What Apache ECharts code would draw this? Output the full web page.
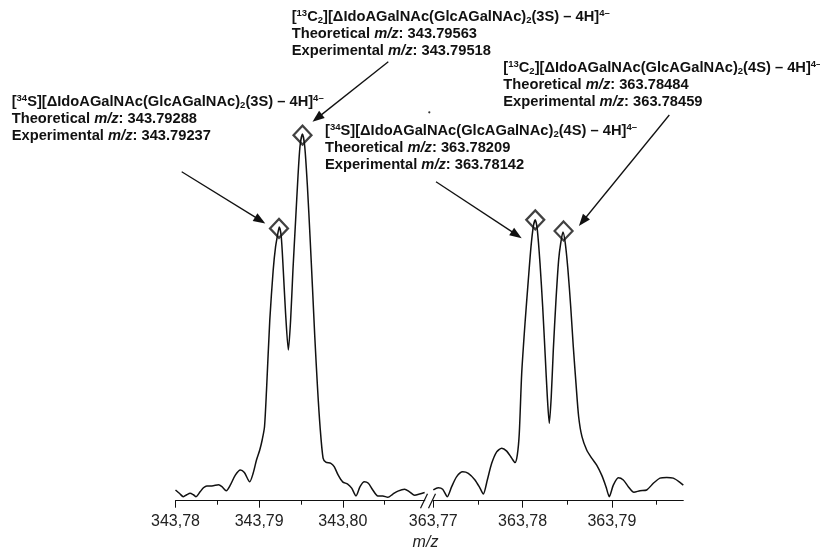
<!DOCTYPE html>
<html><head><meta charset="utf-8">
<script src="https://cdn.jsdelivr.net/npm/echarts@6/dist/echarts.min.js"></script>
<style>html,body{margin:0;padding:0;background:#fff}#c{width:820px;height:556px}</style>
</head><body><div id="c"></div>
<script>
// ---- data ----
const leftMz = [343.78000,343.78046,343.78094,343.78135,343.78174,343.78214,343.78246,343.78294,343.78334,343.78375,343.78435,343.78514,343.78555,343.78607,343.78655,343.78715,343.78775,343.78823,343.78887,343.78928,343.78968,343.79007,343.79036,343.79064,343.79088,343.79127,343.79168,343.79196,343.79224,343.79240,343.79264,343.79288,343.79316,343.79349,343.79376,343.79404,343.79436,343.79464,343.79488,343.79517,343.79545,343.79577,343.79608,343.79637,343.79665,343.79697,343.79728,343.79764,343.79797,343.79857,343.79897,343.79945,343.79998,343.80058,343.80106,343.80157,343.80206,343.80257,343.80305,343.80358,343.80418,343.80478,343.80538,343.80599,343.80659,343.80738,343.80798,343.80858,343.80918,343.80978];
const leftIntensity = [2.9,2.0,1.1,1.6,2.0,1.6,1.1,2.4,3.5,4.0,4.0,4.3,3.8,2.7,4.2,6.9,8.3,7.6,5.1,7.4,11.0,13.7,16.4,20.0,29.9,48.8,62.4,68.6,72.3,74.0,71.4,62.4,50.6,40.7,48.8,62.4,75.9,87.6,95.7,99.1,95.7,84.9,71.4,57.8,44.3,30.8,20.0,11.5,10.4,10.1,9.2,6.9,5.1,4.5,3.4,1.3,3.8,5.1,4.7,2.9,1.3,1.3,0.9,1.8,2.6,3.1,2.4,1.5,1.8,2.2];
const rightMz = [363.77000,363.77056,363.77105,363.77157,363.77206,363.77262,363.77329,363.77392,363.77467,363.77523,363.77560,363.77605,363.77654,363.77710,363.77766,363.77822,363.77878,363.77915,363.77941,363.77963,363.77990,363.78027,363.78064,363.78094,363.78120,363.78142,363.78165,363.78195,363.78225,363.78254,363.78277,363.78299,363.78321,363.78344,363.78374,363.78404,363.78427,363.78452,363.78478,363.78508,363.78539,363.78568,363.78598,363.78628,363.78665,363.78718,363.78774,363.78830,363.78886,363.78934,363.78971,363.79016,363.79072,363.79128,363.79184,363.79247,363.79315,363.79390,363.79464,363.79539,363.79614,363.79688,363.79755,363.79800];
const rightIntensity = [2.9,3.5,3.1,1.1,3.8,6.5,7.8,7.4,5.6,3.4,1.8,5.6,10.1,13.2,14.2,13.4,11.5,10.3,12.4,18.2,34.4,47.9,59.6,68.6,74.1,75.9,73.2,64.2,52.4,38.9,28.1,20.9,28.1,40.7,54.2,65.1,69.6,72.6,69.6,62.4,52.4,41.6,31.7,22.7,17.3,13.7,11.5,9.6,6.9,3.8,1.1,4.2,6.2,5.6,3.8,2.3,2.7,2.9,4.7,6.1,6.3,6.1,5.1,4.2];
const leftPeakMz = [343.79237, 343.79518];
const leftPeakIntensity = [73.6, 98.8];
const rightPeakMz = [363.78142, 363.78459];
const rightPeakIntensity = [75.9, 72.9];
const leftTicks = [343.78, 343.79, 343.80];
const leftMinorTicks = [343.785, 343.795, 343.805];
const rightTicks = [363.77, 363.78, 363.79];
const rightMinorTicks = [363.775, 363.785, 363.795];
const leftRange = [343.78, 343.8098];
const rightRange = [363.77, 363.798];
const labelTexts = [
  ['[{sup|13}C{sub|2}][ΔIdoAGalNAc(GlcAGalNAc){sub|2}(3S) – 4H]{sup|4–}', 'Theoretical {it|m/z}: 343.79563', 'Experimental {it|m/z}: 343.79518'],
  ['[{sup|34}S][ΔIdoAGalNAc(GlcAGalNAc){sub|2}(3S) – 4H]{sup|4–}', 'Theoretical {it|m/z}: 343.79288', 'Experimental {it|m/z}: 343.79237'],
  ['[{sup|34}S][ΔIdoAGalNAc(GlcAGalNAc){sub|2}(4S) – 4H]{sup|4–}', 'Theoretical {it|m/z}: 363.78209', 'Experimental {it|m/z}: 363.78142'],
  ['[{sup|13}C{sub|2}][ΔIdoAGalNAc(GlcAGalNAc){sub|2}(4S) – 4H]{sup|4–}', 'Theoretical {it|m/z}: 363.78484', 'Experimental {it|m/z}: 363.78459']
];
const axisTitle = 'm/z';

// ---- layout ----
const FONT = 'Liberation Sans, Arial, Helvetica, sans-serif';
const labelPos = [ {x: 291.7, y: 17}, {x: 11.7, y: 102}, {x: 325, y: 131}, {x: 503.3, y: 68} ];
const LINE_H = 17;
const arrows = [
  {peak: ['L', 0], tail: [181.7, 171.7], off: [-13.7, -5]},
  {peak: ['L', 1], tail: [388.3, 61.7], off: [10, -13.3]},
  {peak: ['R', 0], tail: [436, 181.7], off: [-13.6, 18.3]},
  {peak: ['R', 1], tail: [669.3, 115], off: [15.3, -5]}
];

const chart = echarts.init(document.getElementById('c'), null, {renderer: 'canvas'});
const fmt = v => v.toFixed(2).replace('.', ',');
const TOP = 130.7, H = 370;

function mainAxis(grid, range, ticks) {
  return {type: 'value', gridIndex: grid, position: 'bottom', min: range[0], max: range[1],
    axisLine: {show: true, lineStyle: {color: '#111', width: 1}},
    axisTick: {show: true, customValues: ticks, length: 7, lineStyle: {color: '#111', width: 1}},
    axisLabel: {show: true, customValues: ticks, formatter: fmt, fontSize: 16, fontFamily: FONT, color: '#222', margin: 13},
    splitLine: {show: false}};
}
function minorAxis(grid, range, ticks) {
  return {type: 'value', gridIndex: grid, position: 'bottom', min: range[0], max: range[1],
    axisLine: {show: false},
    axisTick: {show: true, customValues: ticks, length: 4, lineStyle: {color: '#111', width: 1}},
    axisLabel: {show: false}, splitLine: {show: false}};
}
const pairs = (xs, ys) => xs.map((x, i) => [x, ys[i]]);
const lineStyle = {color: '#111', width: 1.5};
const diamond = {symbol: 'diamond', symbolSize: [18, 19],
  itemStyle: {color: 'rgba(255,255,255,0)', borderColor: '#111', borderWidth: 2.2}, z: 5};

chart.setOption({
  animation: false,
  backgroundColor: '#fff',
  grid: [
    {left: 175.5, width: 249.3, top: TOP, height: H},
    {left: 433.3, width: 250, top: TOP, height: H}
  ],
  xAxis: [mainAxis(0, leftRange, leftTicks), minorAxis(0, leftRange, leftMinorTicks),
          mainAxis(1, rightRange, rightTicks), minorAxis(1, rightRange, rightMinorTicks)],
  yAxis: [{type: 'value', gridIndex: 0, min: 0, max: 100, show: false},
          {type: 'value', gridIndex: 1, min: 0, max: 100, show: false}],
  series: [
    {type: 'line', xAxisIndex: 0, yAxisIndex: 0, data: pairs(leftMz, leftIntensity), showSymbol: false, smooth: 0.25, lineStyle},
    {type: 'line', xAxisIndex: 2, yAxisIndex: 1, data: pairs(rightMz, rightIntensity), showSymbol: false, smooth: 0.25, lineStyle},
    Object.assign({type: 'scatter', xAxisIndex: 0, yAxisIndex: 0, data: pairs(leftPeakMz, leftPeakIntensity)}, diamond),
    Object.assign({type: 'scatter', xAxisIndex: 2, yAxisIndex: 1, data: pairs(rightPeakMz, rightPeakIntensity)}, diamond)
  ]
});

// ---- annotations ----
const base = {fontFamily: FONT, fontWeight: 'bold', fontSize: 14.7, fill: '#111'};
const rich = {
  sup: {fontFamily: FONT, fontWeight: 'bold', fontSize: 9.5, fill: '#111', verticalAlign: 'top'},
  sub: {fontFamily: FONT, fontWeight: 'bold', fontSize: 9.5, fill: '#111', verticalAlign: 'bottom'},
  it: {fontFamily: FONT, fontWeight: 'bold', fontStyle: 'italic', fontSize: 14.7, fill: '#111'}
};
const g = [];
labelTexts.forEach((lines, k) => {
  lines.forEach((t, i) => {
    g.push({type: 'text', x: labelPos[k].x, y: labelPos[k].y + i * LINE_H,
      style: Object.assign({text: t, rich, align: 'left', verticalAlign: 'middle', lineHeight: LINE_H}, base)});
  });
});
arrows.forEach(a => {
  const isL = a.peak[0] === 'L';
  const idx = a.peak[1];
  const p = chart.convertToPixel({xAxisIndex: isL ? 0 : 2, yAxisIndex: isL ? 0 : 1},
    isL ? [leftPeakMz[idx], leftPeakIntensity[idx]] : [rightPeakMz[idx], rightPeakIntensity[idx]]);
  const tip = [p[0] + a.off[0], p[1] + a.off[1]];
  const dx = tip[0] - a.tail[0], dy = tip[1] - a.tail[1];
  const len = Math.hypot(dx, dy), ux = dx / len, uy = dy / len;
  const hl = 12, hw = 4.5;
  const bx = tip[0] - ux * hl, by = tip[1] - uy * hl;
  g.push({type: 'line', shape: {x1: a.tail[0], y1: a.tail[1], x2: bx + ux * 2, y2: by + uy * 2},
    style: {stroke: '#111', lineWidth: 1.3}});
  g.push({type: 'polygon', shape: {points: [tip, [bx - uy * hw, by + ux * hw], [bx + uy * hw, by - ux * hw]]},
    style: {fill: '#111'}});
});
const yAx = TOP + H;
[[420.5, 427.5], [428.5, 435.5]].forEach(s => {
  g.push({type: 'line', shape: {x1: s[0], y1: yAx + 7.5, x2: s[1], y2: yAx - 7}, style: {stroke: '#111', lineWidth: 1.2}});
});
g.push({type: 'circle', shape: {cx: 429.3, cy: 112.3, r: 1.1}, style: {fill: '#333'}});
g.push({type: 'text', x: 425.5, y: 543, style: {text: axisTitle, fontFamily: FONT, fontStyle: 'italic', fontSize: 16, fill: '#222', align: 'center', verticalAlign: 'middle'}});
chart.setOption({graphic: g});
</script>
</body></html>
